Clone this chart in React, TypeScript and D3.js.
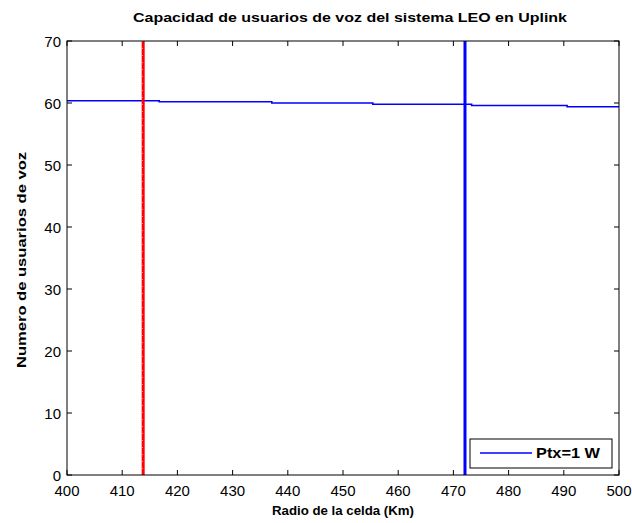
import React from "react";
import * as d3 from "d3";

const radio: number[] = [400, 416.7, 437.1, 455.4, 473.3, 490.6, 500];
const usuarios: number[] = [60.37, 60.2, 60.0, 59.8, 59.6, 59.4, 59.4];
const xTicks: number[] = [400, 410, 420, 430, 440, 450, 460, 470, 480, 490, 500];
const yTicks: number[] = [0, 10, 20, 30, 40, 50, 60, 70];
const redLineX = 413.8;
const blueLineX = 472.1;
const legendLabel = "Ptx=1 W";
const title = "Capacidad de usuarios de voz del sistema LEO en Uplink";
const xLabel = "Radio de la celda (Km)";
const yLabel = "Numero de usuarios de voz";

export default function App() {
  const W = 632, H = 523;
  const L = 67, R = 619, T = 41, B = 475;
  const x = d3.scaleLinear().domain([400, 500]).range([L, R]);
  const y = d3.scaleLinear().domain([0, 70]).range([B, T]);
  const pts: [number, number][] = [];
  for (let i = 0; i < radio.length; i++) {
    if (i > 0) pts.push([radio[i], usuarios[i - 1]]);
    pts.push([radio[i], usuarios[i]]);
  }
  const line = d3.line<[number, number]>().x(d => x(d[0])).y(d => y(d[1]));
  const font = "'Liberation Sans', Arial, sans-serif";
  const tl = 5;
  return (
    <svg width={W} height={H} style={{ position: "absolute", left: 0, top: 0, background: "#fff" }} fontFamily={font}>
      <rect x={0} y={0} width={W} height={H} fill="#fff" />
      <rect x={L} y={T} width={R - L} height={B - T} fill="#fff" />
      {/* data */}
      <path d={line(pts) || ""} fill="none" stroke="#0000ff" strokeWidth={1.6} />
      <line x1={x(redLineX)} x2={x(redLineX)} y1={T} y2={B} stroke="#ff0000" strokeWidth={3} />
      <line x1={x(redLineX)} x2={x(redLineX)} y1={T} y2={B} stroke="#ffb0b0" strokeWidth={1} strokeDasharray="1,6" transform="translate(-1,0)" />
      <line x1={x(blueLineX)} x2={x(blueLineX)} y1={T} y2={B} stroke="#0000ff" strokeWidth={3} />
      {/* axes box */}
      <rect x={L} y={T} width={R - L} height={B - T} fill="none" stroke="#000" strokeWidth={1} />
      {xTicks.map(t => (
        <g key={"x" + t}>
          <line x1={x(t)} x2={x(t)} y1={B} y2={B - tl} stroke="#000" />
          <line x1={x(t)} x2={x(t)} y1={T} y2={T + tl} stroke="#000" />
          <text x={x(t)} y={B + 21} textAnchor="middle" fontSize={15} fill="#000">{t}</text>
        </g>
      ))}
      {yTicks.map(t => (
        <g key={"y" + t}>
          <line x1={L} x2={L + tl} y1={y(t)} y2={y(t)} stroke="#000" />
          <line x1={R} x2={R - tl} y1={y(t)} y2={y(t)} stroke="#000" />
          <text x={L - 6} y={y(t) + 5.5} textAnchor="end" fontSize={15} fill="#000">{t}</text>
        </g>
      ))}
      {/* legend */}
      <rect x={470} y={439} width={142} height={29} fill="#fff" stroke="#000" strokeWidth={1} />
      <line x1={480} x2={532} y1={453} y2={453} stroke="#0000ff" strokeWidth={1.6} />
      <text x={536} y={458} fontSize={14} fontWeight="bold" fill="#000" textLength={64} lengthAdjust="spacingAndGlyphs">{legendLabel}</text>
      {/* labels */}
      <text x={350} y={22} textAnchor="middle" fontSize={13} fontWeight="bold" fill="#000" textLength={434} lengthAdjust="spacingAndGlyphs">{title}</text>
      <text x={343} y={515} textAnchor="middle" fontSize={13} fontWeight="bold" fill="#000" textLength={142} lengthAdjust="spacingAndGlyphs">{xLabel}</text>
      <text transform={`translate(26,${260}) rotate(-90)`} textAnchor="middle" fontSize={13} fontWeight="bold" fill="#000" textLength={216} lengthAdjust="spacingAndGlyphs">{yLabel}</text>
    </svg>
  );
}
